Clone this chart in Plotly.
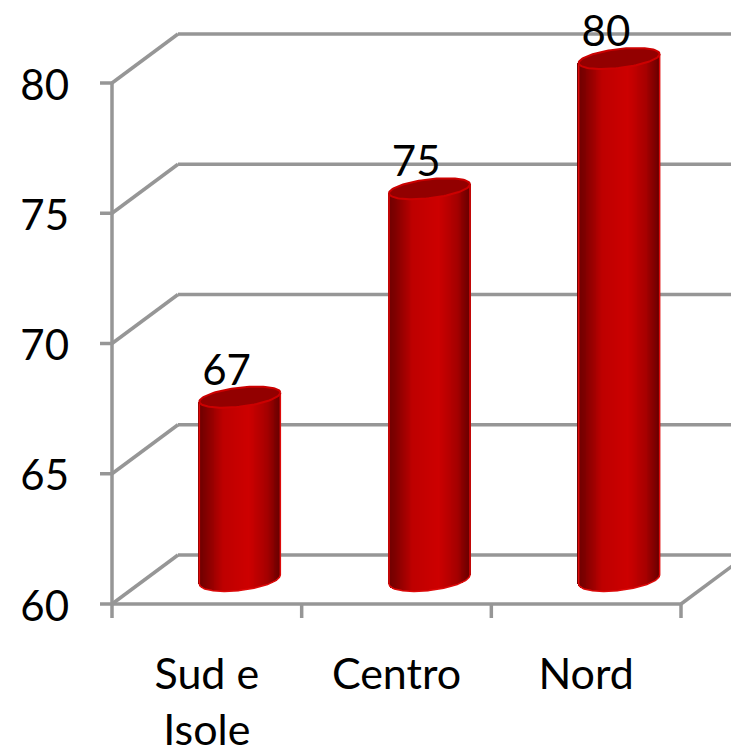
import numpy as np
import plotly.graph_objects as go

CATEGORIES = ["Sud e<br>Isole", "Centro", "Nord"]
VALUES = [67, 75, 80]
Y_TICKS = [60, 65, 70, 75, 80]
Y_BASE = 60
LABEL_SHIFT = [-0.07, -0.07, -0.07]

W, H = 731, 753
AX_L, AX_R, AX_B, AX_T = 112, 681, 604, 83     # axis box in window pixels
TICK_X, TICK_Y = 12, 14
PX_X = (AX_R - AX_L) / 3
PX_Y = (AX_B - AX_T) / (Y_TICKS[-1] - Y_TICKS[0])
x0, x1 = -0.5, 2.5

PL = AX_L - TICK_X                             # plot area in figure pixels
PB = H - (AX_B + TICK_Y)
x_range = [x0 - TICK_X / PX_X, x1 + (W - AX_R) / PX_X]
y_range = [Y_BASE - TICK_Y / PX_Y, Y_BASE + AX_B / PX_Y]

DX, DY = 66 / PX_X, 49 / PX_Y                  # full depth of the chart box
GREY = "#969696"
NUM_FONT = dict(family="Lato, Open Sans, sans-serif", size=42, color="#000000")
CAT_FONT = dict(family="Lato, Open Sans, sans-serif", size=43, color="#000000")
HALF_W = 40.5 / PX_X
ELL_H = 9.5 / PX_Y
BOT_H = 11 / PX_Y
TILT = 4.5 / PX_Y
XT = TICK_X / PX_X
YT = TICK_Y / PX_Y

fig = go.Figure()
shapes = []


def wall(xs, ys):
    for k in range(len(xs) - 1):
        shapes.append(dict(type="line", xref="x", yref="y", layer="below",
                           x0=xs[k], x1=xs[k + 1], y0=ys[k], y1=ys[k + 1],
                           line=dict(color=GREY, width=3.5)))


wall([x0, x0], [Y_TICKS[0] - YT, Y_TICKS[-1]])
for t in Y_TICKS:
    wall([x0 - XT, x0, x0 + DX, x1 + DX], [t, t, t + DY, t + DY])
wall([x0, x1], [Y_BASE, Y_BASE])
wall([x1, x1 + DX], [Y_BASE, Y_BASE + DY])
for b in [0.5, 1.5, 2.5]:
    wall([b, b], [Y_BASE, Y_BASE - YT])


def shade(u):
    stops = [0.0, 0.08, 0.3, 0.62, 0.85, 1.0]
    r = [110, 125, 190, 205, 165, 105]
    return "rgb(%d,0,0)" % round(np.interp(u, stops, r))


us = np.linspace(0, 1, 90)
for i, v in enumerate(VALUES):
    cx = i + DX / 2
    yb = Y_BASE + DY / 2
    top = v + DY / 2
    t = 2 * us - 1
    xs = cx + t * HALF_W
    lower = yb + TILT * t - BOT_H * np.sqrt(1 - t ** 2)
    upper = top + TILT * t
    fig.add_trace(go.Bar(x=xs, base=lower, y=upper - lower, width=1.6 / PX_X,
                         marker=dict(color=[shade(u) for u in us], line=dict(width=0)),
                         hoverinfo="skip", showlegend=False))
    rim_x = [xs[0]] + list(xs) + [xs[-1]]
    rim_y = [upper[0]] + list(lower) + [upper[-1]]
    fig.add_trace(go.Scatter(x=rim_x, y=rim_y, mode="lines", hoverinfo="skip",
                             line=dict(color="#dd0a0a", width=1.5), showlegend=False))
    a = np.linspace(0, 2 * np.pi, 100)
    ex = cx + HALF_W * np.cos(a)
    ey = top + TILT * np.cos(a) + ELL_H * np.sin(a)
    fig.add_trace(go.Scatter(x=ex, y=ey, mode="lines", fill="toself", fillcolor="#930000",
                             hoverinfo="skip", line=dict(color="#cc0000", width=2),
                             showlegend=False))

fig.add_trace(go.Scatter(
    x=[i + DX / 2 + s for i, s in enumerate(LABEL_SHIFT)],
    y=[v + DY / 2 + 23 / PX_Y for v in VALUES],
    text=[str(v) for v in VALUES], mode="text", textposition="middle center",
    textfont=NUM_FONT, cliponaxis=False, hoverinfo="skip", showlegend=False))

fig.update_layout(
    width=W, height=H, autosize=False, barmode="overlay", bargap=0,
    margin=dict(l=PL, r=0, t=0, b=PB, pad=0),
    paper_bgcolor="white", plot_bgcolor="rgba(0,0,0,0)", showlegend=False,
    shapes=shapes,
    xaxis=dict(range=x_range, tickmode="array", tickvals=[0, 1, 2], ticktext=CATEGORIES,
               ticks="", showgrid=False, zeroline=False, showline=False, tickfont=CAT_FONT,
               ticklabelstandoff=27, automargin=False),
    yaxis=dict(range=y_range, tickmode="array", tickvals=Y_TICKS, ticks="", showgrid=False,
               zeroline=False, showline=False, tickfont=NUM_FONT, ticklabelstandoff=30,
               ticklabelshift=2, automargin=False),
)
fig.write_html("out.html", config={"displayModeBar": False},
               post_script="document.body.style.margin='0';document.documentElement.style.overflow='hidden';")
